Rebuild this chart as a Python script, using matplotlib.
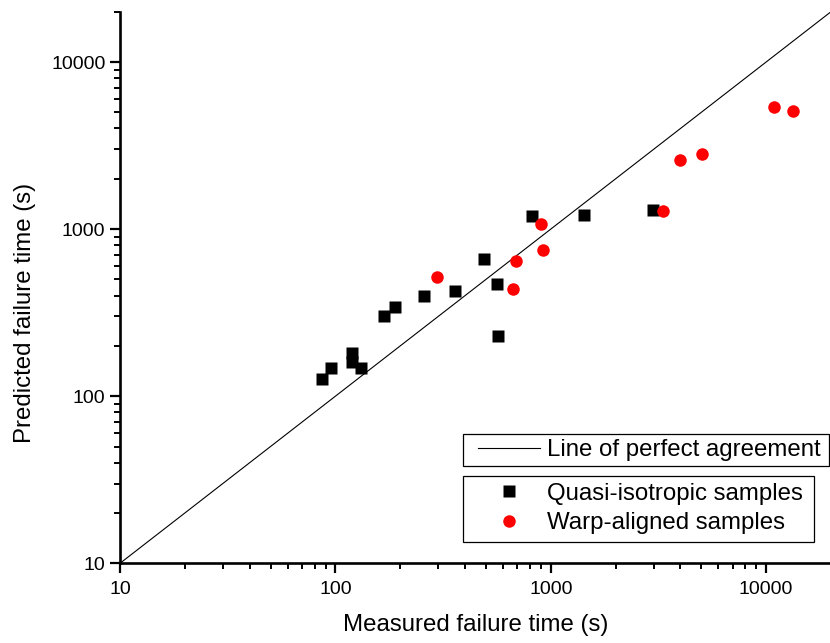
import matplotlib
matplotlib.use("Agg")
import matplotlib.pyplot as plt
from matplotlib.ticker import FixedLocator, FuncFormatter, LogLocator, NullFormatter
from matplotlib.lines import Line2D
from matplotlib.legend_handler import HandlerLine2D

plt.rcParams['font.family'] = ['Liberation Sans', 'DejaVu Sans']

# Data
quasi_x = [87, 95, 119, 119, 132, 168, 190, 259, 360, 490, 564, 569, 821, 1430, 2980]
quasi_y = [126, 147, 182, 161, 147, 303, 343, 397, 429, 664, 469, 229, 1202, 1220, 1300]
warp_x = [295, 688, 671, 899, 925, 3320, 3980, 5040, 10900, 13300]
warp_y = [516, 640, 439, 1076, 749, 1290, 2600, 2800, 5380, 5090]
line_x = [10, 20000]
line_y = [10, 20000]
ticks = [10, 100, 1000, 10000]

fig = plt.figure(figsize=(8.3, 6.43), dpi=100)
ax = fig.add_axes([120/830, (643-563.3)/643, 711/830, 551.6/643])

ax.plot(line_x, line_y, color='black', lw=0.8, zorder=2)
ax.plot(quasi_x, quasi_y, ls='none', marker='s', ms=8, color='black', mec='none', zorder=3)
ax.plot(warp_x, warp_y, ls='none', marker='o', ms=9, color='#ff0000', mec='none', zorder=3)

ax.set_xscale('log')
ax.set_yscale('log')
ax.set_xlim(10, 20000)
ax.set_ylim(10, 20000)

for spine in ['top', 'right']:
    ax.spines[spine].set_visible(False)
for spine in ['left', 'bottom']:
    ax.spines[spine].set_linewidth(1.9)

fmt = FuncFormatter(lambda v, p: f"{int(round(v))}")
for axis in (ax.xaxis, ax.yaxis):
    axis.set_major_locator(FixedLocator(ticks))
    axis.set_major_formatter(fmt)
    axis.set_minor_locator(LogLocator(base=10, subs=range(2, 10), numticks=20))
    axis.set_minor_formatter(NullFormatter())

ax.tick_params(which='major', direction='out', length=7.5, width=1.6, labelsize=14)
ax.tick_params(axis='x', which='major', pad=5)
ax.tick_params(axis='y', which='major', pad=3)
ax.tick_params(which='minor', direction='out', length=4.5, width=1.4)

ax.set_xlabel('Measured failure time (s)', fontsize=17.3, labelpad=12)
ax.set_ylabel('Predicted failure time (s)', fontsize=17.3)
ax.yaxis.set_label_coords(-0.118, 0.454)

h1 = [Line2D([], [], color='black', lw=0.8)]
leg1 = ax.legend(h1, ['Line of perfect agreement'], loc='upper left',
                 bbox_to_anchor=(462.7/830, 1-466.7/643, (829-462.7)/830, 32.4/643),
                 bbox_transform=fig.transFigure, mode='expand',
                 handler_map={Line2D: HandlerLine2D(xpad=0.44)},
                 fontsize=17.3, frameon=True, fancybox=False, edgecolor='black',
                 framealpha=1, handlelength=3.02, handletextpad=0.3, borderpad=0.2,
                 borderaxespad=0)
leg1.get_frame().set_linewidth(0.9)
ax.add_artist(leg1)

h2 = [Line2D([], [], ls='none', marker='s', ms=8, color='black', mec='none'),
      Line2D([], [], ls='none', marker='o', ms=9, color='#ff0000', mec='none')]
leg2 = ax.legend(h2, ['Quasi-isotropic samples', 'Warp-aligned samples'], loc='upper left',
                 bbox_to_anchor=(462.7/830, 1-541.7/643, (814.3-462.7)/830, 66/643),
                 bbox_transform=fig.transFigure, mode='expand',
                 handler_map={Line2D: HandlerLine2D(xpad=0.34)},
                 fontsize=17.3, frameon=True, fancybox=False, edgecolor='black',
                 framealpha=1, handlelength=2.92, handletextpad=0.3, borderpad=0.3,
                 labelspacing=0.31, borderaxespad=0)
leg2.get_frame().set_linewidth(0.9)

fig.savefig('out.png', dpi=100)
